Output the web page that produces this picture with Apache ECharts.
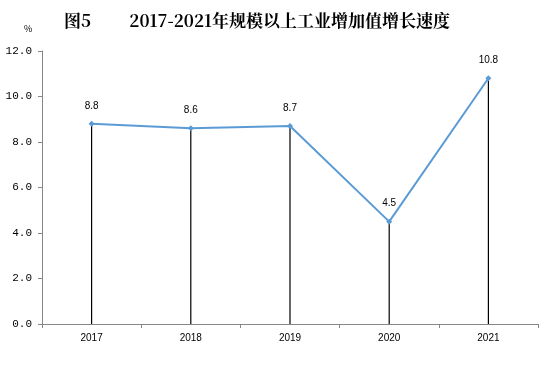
<!DOCTYPE html>
<html><head><meta charset="utf-8">
<script src="https://cdn.jsdelivr.net/npm/echarts@6/dist/echarts.min.js"></script>
<style>html,body{margin:0;padding:0;background:#fff}#c{width:554px;height:382px}</style>
</head><body><div id="c"></div>
<script>
const categories = ['2017','2018','2019','2020','2021'];
const growth = [8.8, 8.6, 8.7, 4.5, 10.8];
const yTicks = ['0.0','2.0','4.0','6.0','8.0','10.0','12.0'];
const chart = echarts.init(document.getElementById('c'));
chart.setOption({
  animation: false,
  backgroundColor: '#fff',
  title: {
    text: '图5         2017-2021年规模以上工业增加值增长速度',
    left: 59, top: 7,
    textStyle: {fontFamily: '"Noto Serif CJK SC","Noto Sans CJK SC",serif', fontSize: 17, fontWeight: 'bold', color: '#000'}
  },
  graphic: [{type:'text', left: 24, top: 24, style:{text:'%', font:'9px "Noto Sans CJK SC"', fill:'#000'}}],
  grid: {left: 42, right: 16, top: 51, bottom: 58},
  xAxis: {
    type: 'category', data: categories, boundaryGap: true,
    axisLine: {lineStyle: {color: '#868686'}},
    axisTick: {show: true, length: 4, lineStyle: {color: '#868686'}},
    axisLabel: {color: '#000', fontSize: 10, fontFamily: '"Liberation Sans",Arial', margin: 9}
  },
  yAxis: {
    type: 'value', min: 0, max: 12, interval: 2,
    axisLine: {show: true, lineStyle: {color: '#868686'}},
    axisTick: {show: true, length: 4, lineStyle: {color: '#868686'}},
    splitLine: {show: false},
    axisLabel: {color: '#000', fontSize: 11, fontFamily: '"Liberation Mono",monospace', margin: 10,
      formatter: v => yTicks[Math.round(v/2)]}
  },
  series: [
    {type: 'bar', data: growth, barWidth: 1.2, itemStyle: {color: '#000'}, silent: true, z: 1},
    {type: 'line', data: growth, z: 3,
     lineStyle: {color: '#5B9BD5', width: 2},
     itemStyle: {color: '#5B9BD5'},
     symbol: 'diamond', symbolSize: 6,
     label: {show: true, position: 'top', distance: 10, color: '#000', fontSize: 10, fontFamily: '"Liberation Sans",Arial',
       formatter: p => p.value.toFixed(1)}}
  ]
});
</script></body></html>
